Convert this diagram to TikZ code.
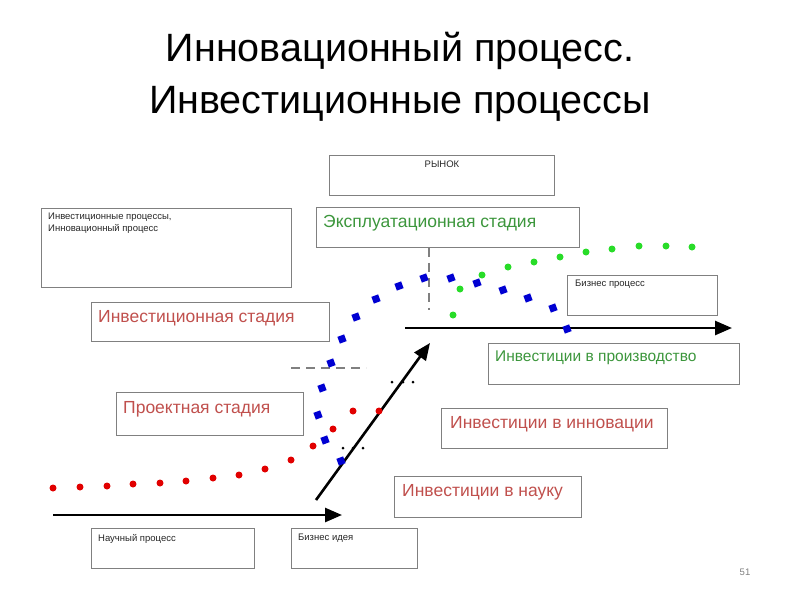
\documentclass[tikz,border=0pt]{standalone}
\usepackage{fontspec}
\setmainfont{Liberation Sans}
\usetikzlibrary{arrows.meta}
\definecolor{boxgray}{RGB}{128,128,128}
\definecolor{txtred}{RGB}{192,80,77}
\definecolor{txtgreen}{RGB}{60,150,60}
\definecolor{dotred}{RGB}{225,0,0}
\definecolor{dotblue}{RGB}{0,0,210}
\definecolor{dotgreen}{RGB}{40,220,40}
\tikzset{
  box/.style={draw=boxgray, line width=0.9pt, anchor=north west, inner sep=0pt},
  smalltxt/.style={font=\fontsize{9.5}{11.5}\selectfont, text=black!85, anchor=north west, inner sep=0pt, align=left},
  bigtxt/.style={font=\fontsize{17.5}{20}\selectfont, anchor=north west, inner sep=0pt},
  flow/.style={line width=2.6pt, -{Triangle[length=17pt, width=14pt]}},
  guide/.style={draw=gray, line width=2.4pt, dash pattern=on 9pt off 6pt}
}
\begin{document}
\begin{tikzpicture}[x=1pt, y=-1pt]
  \useasboundingbox (0,0) rectangle (800,600);
  % title
  \node[font=\fontsize{39.5}{52}\selectfont, align=center] (title) at (400,77)
    {Инновационный процесс.\\Инвестиционные процессы};
  % boxes
  \node[box, minimum width=225, minimum height=40] (rynok) at (329,155) {};
  \node[smalltxt, anchor=north] (trynok) at ([yshift=-6]rynok.north) {РЫНОК};
  \node[box, minimum width=250, minimum height=79] (legend) at (41,208) {};
  \node[smalltxt] (tlegend) at ([shift={(7,5)}]legend.north west)
    {Инвестиционные процессы,\\Инновационный процесс};
  \node[box, minimum width=263, minimum height=40] (expl) at (316,207) {};
  \node[bigtxt, text=txtgreen] (texpl) at ([shift={(7,8)}]expl.north west) {Эксплуатационная стадия};
  \node[box, minimum width=238, minimum height=39] (invest) at (91,302) {};
  \node[bigtxt, text=txtred] (tinvest) at ([shift={(7,8)}]invest.north west) {Инвестиционная стадия};
  \node[box, minimum width=150, minimum height=40] (bproc) at (567,275) {};
  \node[smalltxt] (tbproc) at ([shift={(8,5)}]bproc.north west) {Бизнес процесс};
  \node[box, minimum width=251, minimum height=41] (prod) at (488,343) {};
  \node[bigtxt, font=\fontsize{15.5}{18}\selectfont, text=txtgreen] (tprod) at ([shift={(7,8)}]prod.north west) {Инвестиции в производство};
  \node[box, minimum width=187, minimum height=43] (proj) at (116,392) {};
  \node[bigtxt, text=txtred] (tproj) at ([shift={(7,9)}]proj.north west) {Проектная стадия};
  \node[box, minimum width=226, minimum height=40] (innov) at (441,408) {};
  \node[bigtxt, text=txtred] (tinnov) at ([shift={(9,8)}]innov.north west) {Инвестиции в инновации};
  \node[box, minimum width=187, minimum height=41] (nauka) at (394,476) {};
  \node[bigtxt, text=txtred] (tnauka) at ([shift={(8,8)}]nauka.north west) {Инвестиции в науку};
  \node[box, minimum width=163, minimum height=40] (nproc) at (91,528) {};
  \node[smalltxt] (tnproc) at ([shift={(7,6)}]nproc.north west) {Научный процесс};
  \node[box, minimum width=126, minimum height=40] (bidea) at (291,528) {};
  \node[smalltxt] (tbidea) at ([shift={(7,6)}]bidea.north west) {Бизнес идея};
  \node[font=\fontsize{9.5}{11}\selectfont, text=gray] (page) at (745,572) {51};
  % dashed guides
  \coordinate (g1) at (429,310);
  \coordinate (g2) at (291,368);
  \coordinate (g3) at (366,368);
  \draw[guide] (expl.south -| g1) -- (g1);
  \draw[guide] (g2) -- (g3);
  % flow arrows
  \coordinate (s0) at (53,515);
  \coordinate (s1) at (342,515);
  \coordinate (d0) at (316,500);
  \coordinate (d1) at (430,343);
  \coordinate (u0) at (405,328);
  \coordinate (u1) at (732,328);
  \draw[flow] (s0) -- (s1);
  \draw[flow] (d0) -- (d1);
  \draw[flow] (u0) -- (u1);
  % small dots
  \foreach \x/\y in {392/382, 403/382, 413/382, 343/448, 353/448, 363/448}
    \fill[black] (\x,\y) circle (1.5);
  % red curve
  \foreach \x/\y in {53/488, 80/487, 107/486, 133/484, 160/483, 186/481, 213/478,
      239/475, 265/469, 291/460, 313/446, 333/429, 353/411, 379/411}
    \fill[dotred] (\x,\y) circle (3.5);
  % blue curve
  \foreach \x/\y in {341/461, 325/440, 318/415, 322/388, 331/363, 342/339, 356/317,
      376/299, 399/286, 424/278, 451/278, 477/283, 503/290, 528/298, 553/308, 567/329}
    \fill[dotblue, shift={(\x,\y)}, rotate=20] (-3.6,-3.6) rectangle (3.6,3.6);
  % green curve
  \foreach \x/\y in {453/315, 460/289, 482/275, 508/267, 534/262, 560/257, 586/252,
      612/249, 639/246, 666/246, 692/247}
    \fill[dotgreen] (\x,\y) circle (3.5);
\end{tikzpicture}
\end{document}
